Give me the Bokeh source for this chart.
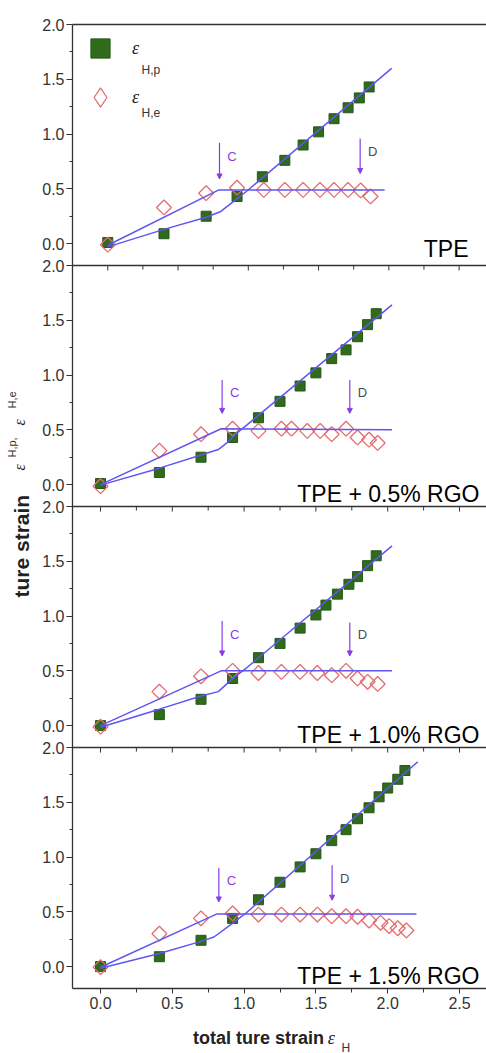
import math
from bokeh.plotting import figure
from bokeh.layouts import column, row
from bokeh.models import (Range1d, LinearAxis, FixedTicker, Arrow, NormalHead, Label,
                          Legend, LegendItem, PrintfTickFormatter, Span)
from bokeh.embed import file_html
from bokeh.resources import INLINE
from bokeh.core.properties import value

# ---------------- data ----------------
panel_names = ["TPE", "TPE + 0.5% RGO", "TPE + 1.0% RGO", "TPE + 1.5% RGO"]

# plastic strain eps_H,p (filled squares)
p1_sq_x = [0, 0.40, 0.70, 0.92, 1.10, 1.26, 1.39, 1.50, 1.61, 1.71, 1.79, 1.86]
p1_sq_y = [0.01, 0.09, 0.25, 0.43, 0.61, 0.76, 0.90, 1.02, 1.14, 1.24, 1.33, 1.43]
p2_sq_x = [0, 0.41, 0.70, 0.92, 1.10, 1.25, 1.39, 1.50, 1.61, 1.71, 1.79, 1.86, 1.92]
p2_sq_y = [0.01, 0.11, 0.25, 0.43, 0.61, 0.76, 0.90, 1.02, 1.15, 1.23, 1.35, 1.46, 1.56]
p3_sq_x = [0, 0.41, 0.70, 0.92, 1.10, 1.25, 1.39, 1.50, 1.57, 1.65, 1.73, 1.79, 1.86, 1.92]
p3_sq_y = [0.0, 0.10, 0.24, 0.43, 0.62, 0.75, 0.89, 1.01, 1.10, 1.20, 1.29, 1.36, 1.46, 1.55]
p4_sq_x = [0, 0.41, 0.70, 0.92, 1.10, 1.25, 1.39, 1.50, 1.61, 1.71, 1.79, 1.87, 1.94, 2.00, 2.07, 2.12]
p4_sq_y = [0.0, 0.09, 0.24, 0.44, 0.61, 0.77, 0.91, 1.03, 1.15, 1.25, 1.35, 1.45, 1.55, 1.63, 1.71, 1.79]

# elastic strain eps_H,e (open diamonds)
p1_dm_x = [0, 0.40, 0.70, 0.92, 1.11, 1.26, 1.39, 1.51, 1.61, 1.71, 1.80, 1.87]
p1_dm_y = [-0.01, 0.33, 0.46, 0.51, 0.49, 0.49, 0.49, 0.49, 0.49, 0.49, 0.485, 0.43]
p2_dm_x = [0, 0.41, 0.70, 0.92, 1.10, 1.26, 1.33, 1.44, 1.53, 1.61, 1.71, 1.79, 1.87, 1.93]
p2_dm_y = [-0.015, 0.31, 0.46, 0.51, 0.49, 0.51, 0.51, 0.49, 0.49, 0.46, 0.51, 0.43, 0.41, 0.38]
p3_dm_x = [0, 0.41, 0.70, 0.92, 1.10, 1.26, 1.39, 1.51, 1.61, 1.71, 1.79, 1.86, 1.93]
p3_dm_y = [-0.01, 0.31, 0.45, 0.50, 0.48, 0.49, 0.49, 0.48, 0.46, 0.50, 0.43, 0.40, 0.38]
p4_dm_x = [0, 0.41, 0.70, 0.92, 1.10, 1.26, 1.39, 1.51, 1.61, 1.71, 1.79, 1.87, 1.95, 2.01, 2.07, 2.13]
p4_dm_y = [-0.005, 0.30, 0.44, 0.485, 0.475, 0.475, 0.475, 0.475, 0.46, 0.46, 0.455, 0.42, 0.40, 0.37, 0.35, 0.33]

# fitted curves
p1_el_x = [0, 0.79, 1.97]
p1_el_y = [-0.015, 0.49, 0.49]
p1_pl_x = [0, 0.40, 0.70, 0.80, 0.90, 0.99, 2.02]
p1_pl_y = [-0.03, 0.13, 0.24, 0.29, 0.39, 0.48, 1.60]
p2_el_x = [0, 0.84, 2.03]
p2_el_y = [0.0, 0.51, 0.50]
p2_pl_x = [0, 0.41, 0.70, 0.82, 0.88, 0.94, 1.02, 2.03]
p2_pl_y = [-0.005, 0.15, 0.27, 0.32, 0.38, 0.46, 0.545, 1.64]
p3_el_x = [0, 0.84, 2.03]
p3_el_y = [0.0, 0.50, 0.50]
p3_pl_x = [0, 0.41, 0.70, 0.82, 0.93, 1.02, 2.03]
p3_pl_y = [-0.015, 0.15, 0.27, 0.31, 0.44, 0.53, 1.64]
p4_el_x = [0, 0.80, 0.81, 2.20]
p4_el_y = [-0.006, 0.475, 0.479, 0.479]
p4_pl_x = [0, 0.41, 0.70, 0.79, 0.905, 1.01, 2.21]
p4_pl_y = [-0.015, 0.12, 0.23, 0.27, 0.38, 0.485, 1.87]

# transition markers C and D: (label, x, y_top, y_bottom)
p1_marks = [("C", 0.795, 0.92, 0.59), ("D", 1.796, 0.96, 0.64)]
p2_marks = [("C", 0.847, 0.955, 0.65), ("D", 1.736, 0.955, 0.65)]
p3_marks = [("C", 0.847, 0.955, 0.636), ("D", 1.736, 0.94, 0.636)]
p4_marks = [("C", 0.824, 0.90, 0.59), ("D", 1.613, 0.924, 0.606)]

x_ticks = [0.0, 0.5, 1.0, 1.5, 2.0, 2.5]
x_tick_labels = ["0.0", "0.5", "1.0", "1.5", "2.0", "2.5"]
x_minor = [0.25, 0.75, 1.25, 1.75, 2.25]
y_ticks = [0.0, 0.5, 1.0, 1.5, 2.0]
y_tick_labels = ["0.0", "0.5", "1.0", "1.5", "2.0"]
y_minor = [0.25, 0.75, 1.25, 1.75]

legend_sub = ["H,p", "H,e"]
x_title = ["total ture strain", "ε", "H"]
y_title = ["ture strain", "ε", "H,p,", "ε", "H,e"]

# ---------------- style ----------------
SANS = "Liberation Sans"
SERIF = "Liberation Serif"
GREEN = "#2f6b1b"
GREEN_EDGE = "#25581a"
RED = "#e36d6d"
BLUE = "#5f55f2"
PURPLE = "#8a3de6"
AXIS = "#333333"
TITLE = "#222222"
Y_MIN, Y_MAX = -0.2, 2.0
SPAN = Y_MAX - Y_MIN
NP = 4

panels = [
    dict(name=panel_names[0], sq=(p1_sq_x, p1_sq_y), dm=(p1_dm_x, p1_dm_y),
         el=(p1_el_x, p1_el_y), pl=(p1_pl_x, p1_pl_y), marks=p1_marks,
         xr="p1x", name_x=2.567, name_y=-0.045),
    dict(name=panel_names[1], sq=(p2_sq_x, p2_sq_y), dm=(p2_dm_x, p2_dm_y),
         el=(p2_el_x, p2_el_y), pl=(p2_pl_x, p2_pl_y), marks=p2_marks,
         xr="default", name_x=2.639, name_y=-0.09),
    dict(name=panel_names[2], sq=(p3_sq_x, p3_sq_y), dm=(p3_dm_x, p3_dm_y),
         el=(p3_el_x, p3_el_y), pl=(p3_pl_x, p3_pl_y), marks=p3_marks,
         xr="default", name_x=2.639, name_y=-0.09),
    dict(name=panel_names[3], sq=(p4_sq_x, p4_sq_y), dm=(p4_dm_x, p4_dm_y),
         el=(p4_el_x, p4_el_y), pl=(p4_pl_x, p4_pl_y), marks=p4_marks,
         xr="default", name_x=2.639, name_y=-0.09),
]

YL_W = 35
W = 486 - YL_W
H_MAIN = 1016
XL_H = 1053 - H_MAIN
offsets = [round(SPAN * (NP - 1 - k), 6) for k in range(NP)]

p = figure(width=W, height=H_MAIN,
           x_range=Range1d(-0.195, 2.688),
           y_range=Range1d(Y_MIN, round(Y_MIN + SPAN * NP, 6)),
           output_backend="svg", toolbar_location=None,
           x_axis_location=None, y_axis_location=None,
           min_border_left=37, min_border_right=0, min_border_top=24, min_border_bottom=28)
p.outline_line_color = None
p.xgrid.visible = False
p.ygrid.visible = False
p.extra_x_ranges = {"p1x": Range1d(-0.251, 2.695)}
p.extra_y_ranges = {f"y{k}": Range1d(round(Y_MIN - offsets[k], 6),
                                     round(Y_MIN + SPAN * NP - offsets[k], 6))
                    for k in range(NP)}

# left axis: one stacked axis, each panel labelled 0.0 ... 2.0
yt, ym, yover = [], [], {}
for k in range(NP):
    for t, lab in zip(y_ticks, y_tick_labels):
        pos = round(offsets[k] + t, 6)
        yt.append(pos)
        yover[pos] = lab
    for m in y_minor:
        ym.append(round(offsets[k] + m, 6))
yax = LinearAxis(ticker=FixedTicker(ticks=sorted(yt), minor_ticks=sorted(ym)),
                 formatter=PrintfTickFormatter(format="%.1f"),
                 major_label_overrides=yover,
                 axis_line_color=AXIS, axis_line_width=1.3,
                 major_tick_line_color=AXIS, minor_tick_line_color=AXIS,
                 major_tick_out=6, major_tick_in=0, minor_tick_out=3, minor_tick_in=0,
                 major_label_standoff=2,
                 major_label_text_font=SANS, major_label_text_font_size="16px",
                 major_label_text_color=AXIS)
p.add_layout(yax, "left")

# top frame line
top_ax = LinearAxis(ticker=FixedTicker(ticks=[]), axis_line_color=AXIS, axis_line_width=1.3,
                    major_tick_out=0, major_tick_in=0, minor_tick_out=0, minor_tick_in=0,
                    major_label_text_color=None, major_label_standoff=0)
p.add_layout(top_ax, "above")

# bottom axis
bax = LinearAxis(ticker=FixedTicker(ticks=x_ticks, minor_ticks=x_minor),
                 major_label_overrides={t: l for t, l in zip(x_ticks, x_tick_labels)},
                 axis_line_color=AXIS, axis_line_width=1.3,
                 major_tick_line_color=AXIS, minor_tick_line_color=AXIS,
                 major_tick_out=5, major_tick_in=0, minor_tick_out=4, minor_tick_in=0,
                 major_label_standoff=3,
                 major_label_text_font=SANS, major_label_text_font_size="16px",
                 major_label_text_color=AXIS)
p.add_layout(bax, "below")

sq_renderers = []
for k, cfg in enumerate(panels):
    xrn = cfg["xr"]
    yrn = f"y{k}"
    sq = p.scatter(x=cfg["sq"][0], y=cfg["sq"][1], marker="square", size=10,
                   fill_color=GREEN, line_color=GREEN_EDGE, line_width=1,
                   x_range_name=xrn, y_range_name=yrn)
    sq_renderers.append(sq)
    p.scatter(x=cfg["dm"][0], y=cfg["dm"][1], marker="square", angle=math.pi / 4,
              size=10.5, fill_color=None, line_color=RED, line_width=1.3,
              x_range_name=xrn, y_range_name=yrn)
    p.line(x=cfg["el"][0], y=cfg["el"][1], line_color=BLUE, line_width=1.5,
           x_range_name=xrn, y_range_name=yrn)
    p.line(x=cfg["pl"][0], y=cfg["pl"][1], line_color=BLUE, line_width=1.5,
           x_range_name=xrn, y_range_name=yrn)

    for lab, mx, y0, y1 in cfg["marks"]:
        p.add_layout(Arrow(x_start=mx, y_start=y0, x_end=mx, y_end=y1,
                           x_range_name=xrn, y_range_name=yrn,
                           line_color=PURPLE, line_width=1.2,
                           end=NormalHead(size=5, fill_color=PURPLE, line_color=PURPLE)))
        p.add_layout(Label(x=mx + 0.055, y=(y0 + y1) / 2 + 0.04, text=lab,
                           x_range_name=xrn, y_range_name=yrn,
                           text_font=SANS, text_font_size="13px",
                           text_color=(PURPLE if lab == "C" else "#4a4a5a"),
                           text_baseline="middle", text_align="left"))

    p.add_layout(Label(x=cfg["name_x"], y=cfg["name_y"], text=cfg["name"],
                       x_range_name=xrn, y_range_name=yrn,
                       text_font=SANS, text_font_size="23px", text_color="black",
                       text_align="right", text_baseline="alphabetic"))

    if k > 0:
        # boundary with the panel above, with the upper panel's inward x ticks
        p.add_layout(Span(location=Y_MAX, dimension="width", y_range_name=yrn,
                          line_color=AXIS, line_width=1.5))
        prev_xr = panels[k - 1]["xr"]
        p.segment(x0=x_ticks, y0=[Y_MAX] * len(x_ticks), x1=x_ticks,
                  y1=[Y_MAX - 0.046] * len(x_ticks), line_color=AXIS, line_width=1,
                  x_range_name=prev_xr, y_range_name=yrn)
        p.segment(x0=x_minor, y0=[Y_MAX] * len(x_minor), x1=x_minor,
                  y1=[Y_MAX - 0.037] * len(x_minor), line_color=AXIS, line_width=1,
                  x_range_name=prev_xr, y_range_name=yrn)

# legend (panel 1); the diamond key is a legend-only renderer with no visible point
dm_key = p.scatter(x=[float("nan")], y=[float("nan")], marker="diamond", fill_color=None,
                   line_color=RED, line_width=1.3, x_range_name="p1x", y_range_name="y0")
legend = Legend(items=[LegendItem(label=value("ε"), renderers=[sq_renderers[0]]),
                       LegendItem(label=value("ε"), renderers=[dm_key])],
                location="top_left", margin=0, padding=5,
                glyph_width=56, glyph_height=48, spacing=1, label_standoff=4,
                border_line_color=None, background_fill_alpha=0,
                label_text_font=SERIF, label_text_font_style="italic",
                label_text_font_size="18px", label_text_color=TITLE)
p.add_layout(legend)
p.add_layout(Label(x=0.24, y=1.525, text=legend_sub[0], x_range_name="p1x", y_range_name="y0",
                   text_font=SANS, text_font_size="12px", text_color=AXIS))
p.add_layout(Label(x=0.24, y=1.124, text=legend_sub[1], x_range_name="p1x", y_range_name="y0",
                   text_font=SANS, text_font_size="12px", text_color=AXIS))


def blank(width, height):
    f = figure(width=width, height=height, x_range=Range1d(0, width), y_range=Range1d(0, height),
               output_backend="svg", toolbar_location=None, min_border=0,
               x_axis_location=None, y_axis_location=None)
    f.outline_line_color = None
    f.xgrid.visible = False
    f.ygrid.visible = False
    f.align = "start"
    return f


# x-axis title (pixel coordinates inside its strip)
xl = blank(W, XL_H)
xl.text(x=[274], y=[16], text=[x_title[0]], text_font=value(SANS),
        text_font_style="bold", text_font_size="18px", text_color=TITLE,
        text_baseline="alphabetic", text_align="right")
xl.text(x=[278], y=[16], text=[x_title[1]], text_font=value(SERIF), text_font_style="italic",
        text_font_size="18px", text_color=TITLE, text_baseline="alphabetic")
xl.text(x=[293], y=[6], text=[x_title[2]], text_font=value(SANS),
        text_font_size="12px", text_color=AXIS, text_baseline="alphabetic")

# y-axis title (rotated, pixel coordinates inside its strip)
yl = blank(YL_W, H_MAIN + XL_H)
A = math.pi / 2
yl.text(x=[20.5], y=[456], text=[y_title[0]], angle=A, text_font=value(SANS),
        text_font_style="bold", text_font_size="21px", text_color=TITLE,
        text_baseline="alphabetic")
yl.text(x=[19, 19], y=[583, 628], text=[y_title[1], y_title[3]], angle=A,
        text_font=value(SERIF), text_font_style="italic", text_font_size="16px",
        text_color=TITLE, text_baseline="alphabetic")
yl.text(x=[11, 11], y=[596, 645], text=[y_title[2], y_title[4]], angle=A,
        text_font=value(SANS), text_font_size="11px", text_color=AXIS,
        text_baseline="alphabetic")

p.align = "start"
col = column(p, xl, spacing=0)
col.align = "start"
layout = row(yl, col, spacing=0)
open("out.html", "w").write(file_html(layout, INLINE))
